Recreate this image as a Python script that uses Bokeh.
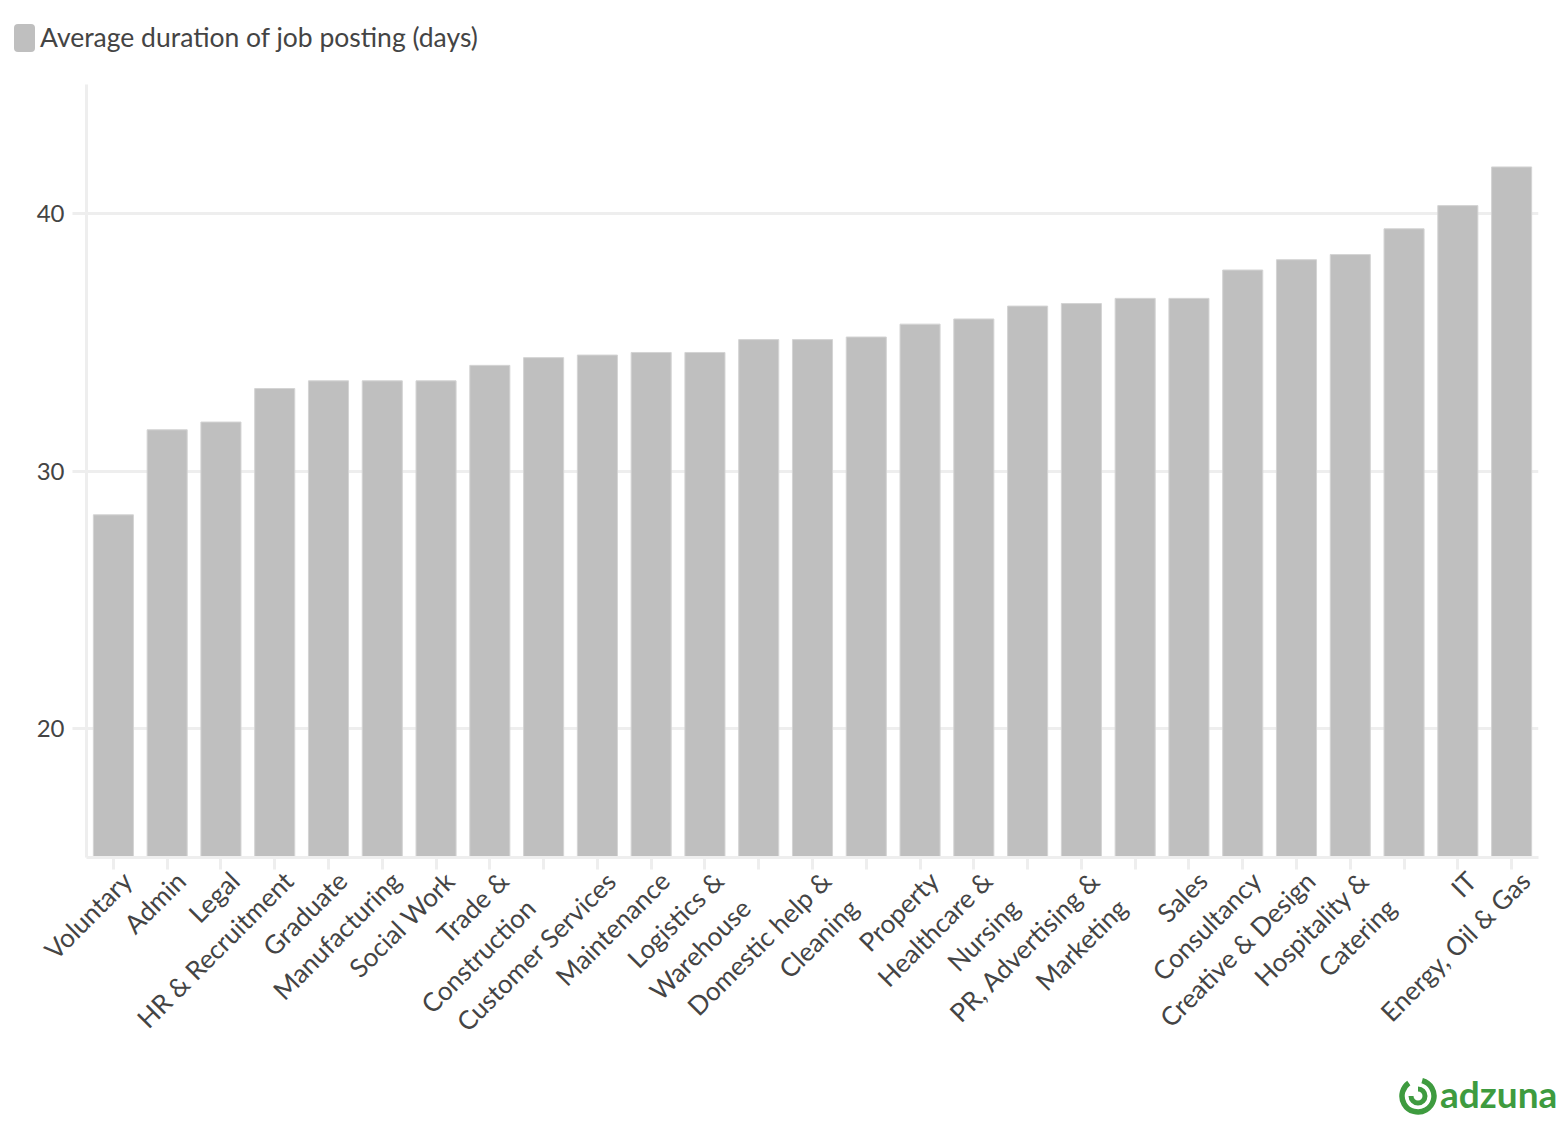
from bokeh.plotting import figure
from bokeh.models import Range1d, FixedTicker, Div
from bokeh.layouts import column
from bokeh.embed import file_html
from bokeh.resources import INLINE
from math import pi

# categories left to right ("" = bar whose label is not shown in the chart)
categories = ["Voluntary", "Admin", "Legal", "HR & Recruitment", "Graduate",
              "Manufacturing", "Social Work", "Trade &\nConstruction", "",
              "Customer Services", "Maintenance", "Logistics &\nWarehouse", "",
              "Domestic help &\nCleaning", "", "Property", "Healthcare &\nNursing", "",
              "PR, Advertising &\nMarketing", "", "Sales", "Consultancy",
              "Creative & Design", "Hospitality &\nCatering", "", "IT",
              "Energy, Oil & Gas"]
avg_days = [28.3, 31.6, 31.9, 33.2, 33.5, 33.5, 33.5, 34.1, 34.4, 34.5, 34.6,
            34.6, 35.1, 35.1, 35.2, 35.7, 35.9, 36.4, 36.5, 36.7, 36.7, 37.8,
            38.2, 38.4, 39.4, 40.3, 41.8]
y_ticks = [20, 30, 40]
series_name = "Average duration of job posting (days)"

xs = list(range(len(avg_days)))
FONT = "Lato"
TXT = "#444444"
GRID = "#eeeeee"
BAR = "#bfbfbf"
GREEN = "#3e9b3f"
W = 1560

# legend row
head = Div(width=W, height=74, margin=0, text=(
    f'<div style="position:relative;width:{W}px;height:74px;font-family:{FONT};">'
    f'<span style="position:absolute;left:14px;top:24px;width:21px;height:28px;'
    f'background:{BAR};border-radius:4px"></span>'
    f'<span style="position:absolute;left:40px;top:21px;font-size:26.5px;line-height:32px;'
    f'color:{TXT};white-space:nowrap">{series_name}</span></div>'))

# main chart
p = figure(width=W, height=1038, x_range=Range1d(-0.5, len(xs) - 0.5),
           y_range=Range1d(15, 45), output_backend="svg", toolbar_location=None,
           min_border_left=86, min_border_right=22, min_border_top=10,
           min_border_bottom=255)
p.outline_line_color = None

p.vbar(x=xs, top=avg_days, bottom=15, width=0.745, fill_color=BAR,
       line_color="#d4d4d4", line_width=1)

p.xgrid.visible = False
p.ygrid.ticker = FixedTicker(ticks=y_ticks)
p.ygrid.grid_line_color = GRID
p.ygrid.grid_line_width = 3

p.yaxis.ticker = FixedTicker(ticks=y_ticks)
p.yaxis.axis_line_color = GRID
p.yaxis.axis_line_width = 3
p.yaxis.major_tick_line_color = GRID
p.yaxis.major_tick_line_width = 3
p.yaxis.major_tick_out = 14
p.yaxis.major_tick_in = 0
p.yaxis.minor_tick_line_color = None
p.yaxis.major_label_text_font = FONT
p.yaxis.major_label_text_font_size = "24px"
p.yaxis.major_label_text_color = TXT
p.yaxis.major_label_standoff = 8


# pad with empty lines so that the first text line of every label hangs just
# below-right of its tick (labels are centred on the tick by default)
def tick_text(c):
    if c == "":
        return c
    if "\n" in c:
        return "\n\n" + c
    return "\n" + c


p.xaxis.ticker = FixedTicker(ticks=xs)
p.xaxis.major_label_overrides = {i: tick_text(c) for i, c in zip(xs, categories)}
p.xaxis.major_label_orientation = pi / 4
p.xaxis.axis_line_color = GRID
p.xaxis.axis_line_width = 3
p.xaxis.major_tick_line_color = GRID
p.xaxis.major_tick_line_width = 3
p.xaxis.major_tick_out = 12
p.xaxis.major_tick_in = 0
p.xaxis.minor_tick_line_color = None
p.xaxis.major_label_text_font = FONT
p.xaxis.major_label_text_font_size = "26px"
p.xaxis.major_label_text_color = TXT
p.xaxis.major_label_standoff = -7

# adzuna logo row (drawn a little upward into the chart's bottom margin)
foot = Div(width=W, height=30, margin=0, styles={"overflow": "visible"}, text=(
    f'<div style="position:relative;width:{W}px;height:30px;overflow:visible;">'
    f'<svg style="position:absolute;left:1398px;top:-36px" width="40" height="40">'
    f'<circle cx="20" cy="20" r="16" fill="none" stroke="{GREEN}" stroke-width="5.5" '
    f'stroke-dasharray="86 15" transform="rotate(-75 20 20)"/>'
    f'<path d="M 20 13 A 7 7 0 1 1 13 20" fill="none" stroke="{GREEN}" stroke-width="5"/>'
    f'</svg>'
    f'<span style="position:absolute;left:1440px;top:-38px;font-family:{FONT};font-weight:bold;'
    f'font-size:37px;line-height:40px;color:{GREEN}">adzuna</span></div>'))

layout = column(head, p, foot, spacing=0)
open("out.html", "w").write(file_html(layout, INLINE))
